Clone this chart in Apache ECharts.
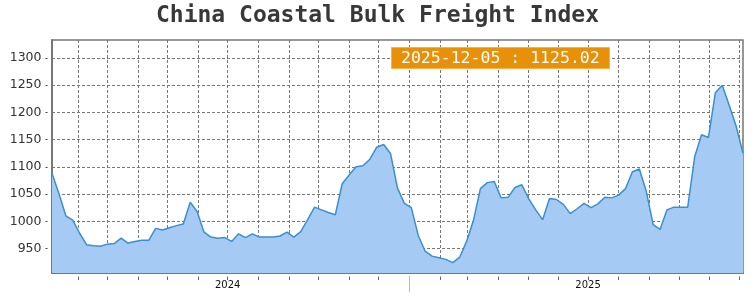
<!DOCTYPE html>
<html>
<head>
<meta charset="utf-8">
<script src="https://cdn.jsdelivr.net/npm/echarts@6/dist/echarts.min.js"></script>
<style>
html,body{margin:0;padding:0;background:#fff;}
#chart{width:755px;height:300px;}
</style>
</head>
<body>
<div id="chart"></div>
<script>
const chartTitle = 'China Coastal Bulk Freight Index';

const dates = [
'2024-01-05','2024-01-12','2024-01-19','2024-01-26','2024-02-02','2024-02-09','2024-02-16','2024-02-23',
'2024-03-01','2024-03-08','2024-03-15','2024-03-22','2024-03-29','2024-04-05','2024-04-12','2024-04-19',
'2024-04-26','2024-05-03','2024-05-10','2024-05-17','2024-05-24','2024-05-31','2024-06-07','2024-06-14',
'2024-06-21','2024-06-28','2024-07-05','2024-07-12','2024-07-19','2024-07-26','2024-08-02','2024-08-09',
'2024-08-16','2024-08-23','2024-08-30','2024-09-06','2024-09-13','2024-09-20','2024-09-27','2024-10-04',
'2024-10-11','2024-10-18','2024-10-25','2024-11-01','2024-11-08','2024-11-15','2024-11-22','2024-11-29',
'2024-12-06','2024-12-13','2024-12-20','2024-12-27',
'2025-01-03','2025-01-10','2025-01-17','2025-01-24','2025-01-31','2025-02-07','2025-02-14','2025-02-21',
'2025-02-28','2025-03-07','2025-03-14','2025-03-21','2025-03-28','2025-04-04','2025-04-11','2025-04-18',
'2025-04-25','2025-05-02','2025-05-09','2025-05-16','2025-05-23','2025-05-30','2025-06-06','2025-06-13',
'2025-06-20','2025-06-27','2025-07-04','2025-07-11','2025-07-18','2025-07-25','2025-08-01','2025-08-08',
'2025-08-15','2025-08-22','2025-08-29','2025-09-05','2025-09-12','2025-09-19','2025-09-26','2025-10-03',
'2025-10-10','2025-10-17','2025-10-24','2025-10-31','2025-11-07','2025-11-14','2025-11-21','2025-11-28',
'2025-12-05'
];

const indexValues = [
1088,1051,1010,1002,978,957,955,954,
958,959,969,960,963,965,965,987,
984,988,992,995,1035,1018,980,971,
969,970,963,977,970,977,971,971,
971,973,980,971,981,1003,1026,1021,
1016,1012,1069,1085,1100,1102,1114,1136,
1141,1124,1061,1033,
1025,974,945,936,933,930,924,934,
963,1002,1060,1071,1073,1043,1044,1062,
1067,1041,1021,1003,1042,1040,1031,1014,
1023,1033,1025,1032,1044,1043,1048,1060,
1091,1096,1055,994,985,1021,1026,1026,
1026,1118,1159,1154,1236,1250,1213,1175,
1125.02
];

const yTicks = [950,1000,1050,1100,1150,1200,1250,1300];
const monthTicks = [
'2024-02-01','2024-03-01','2024-04-01','2024-05-01','2024-06-01','2024-07-01','2024-08-01','2024-09-01',
'2024-10-01','2024-11-01','2024-12-01','2025-01-01','2025-02-01','2025-03-01','2025-04-01','2025-05-01',
'2025-06-01','2025-07-01','2025-08-01','2025-09-01','2025-10-01','2025-11-01','2025-12-01'
];
const yearLabelDates = ['2024-07-01','2025-07-01'];
const yearLabels = ['2024','2025'];
const yearBoundaries = ['2025-01-01'];

const yMin = 905, yMax = 1333;

const ts = s => Date.UTC(+s.slice(0,4), +s.slice(5,7) - 1, +s.slice(8,10));
const seriesData = dates.map((d, i) => [ts(d), indexValues[i]]);
const xMin = ts(dates[0]);
const xMax = ts(dates[dates.length - 1]);
const lastLabel = dates[dates.length - 1] + ' : ' + indexValues[indexValues.length - 1].toFixed(2);

const yearLabelMap = {};
yearLabelDates.forEach((d, i) => { yearLabelMap[ts(d)] = yearLabels[i]; });

const chart = echarts.init(document.getElementById('chart'), null, {renderer: 'canvas'});
chart.setOption({
  animation: false,
  backgroundColor: '#fff',
  title: [{
    text: chartTitle,
    left: 'center',
    top: 5,
    padding: 0,
    textStyle: {fontFamily: 'DejaVu Sans Mono', fontWeight: 'bold', fontSize: 23, color: '#383838'}
  }, {
    text: lastLabel,
    left: 391,
    top: 47,
    padding: [3, 10, 2, 10],
    backgroundColor: '#E89008',
    borderColor: '#F3B44E',
    borderWidth: 1,
    textStyle: {fontFamily: 'DejaVu Sans Mono', fontWeight: 'normal', fontSize: 16.5, color: '#fff'}
  }],
  grid: {
    left: 52, right: 12, top: 40, bottom: 27,
    show: true, borderColor: '#777', borderWidth: 1.5, backgroundColor: 'transparent'
  },
  xAxis: [{
    type: 'value', min: xMin, max: xMax, position: 'bottom', scale: true,
    axisLine: {show: true, lineStyle: {color: '#777', width: 2}},
    axisTick: {show: false, customValues: monthTicks.map(ts)},
    axisLabel: {show: false},
    splitLine: {show: true, lineStyle: {color: '#777', type: [3, 2], width: 1}}
  }, {
    type: 'value', min: xMin, max: xMax, position: 'bottom', offset: 3.5, scale: true,
    axisLine: {show: false},
    axisTick: {show: true, length: 3.5, customValues: monthTicks.map(ts), lineStyle: {color: '#666', width: 1}},
    axisLabel: {
      show: true, customValues: yearLabelDates.map(ts), margin: 4,
      fontFamily: 'DejaVu Sans', fontSize: 10, color: '#111',
      formatter: v => yearLabelMap[v] || ''
    },
    splitLine: {show: false}
  }, {
    type: 'value', min: xMin, max: xMax, position: 'bottom', offset: 3.5, scale: true,
    axisLine: {show: false},
    axisTick: {show: true, length: 15.5, customValues: yearBoundaries.map(ts), lineStyle: {color: '#bbb', width: 1}},
    axisLabel: {show: false},
    splitLine: {show: false}
  }],
  yAxis: [{
    type: 'value', min: yMin, max: yMax, position: 'left',
    axisLine: {show: true, lineStyle: {color: '#777', width: 2}},
    axisTick: {show: false, customValues: yTicks},
    axisLabel: {show: false},
    splitLine: {show: true, lineStyle: {color: '#777', type: [3, 2], width: 1}}
  }, {
    type: 'value', min: yMin, max: yMax, position: 'left', offset: 4.5,
    axisLine: {show: false},
    axisTick: {show: true, length: 2, customValues: yTicks, lineStyle: {color: '#444', width: 1}},
    axisLabel: {
      show: true, customValues: yTicks, margin: 6,
      fontFamily: 'DejaVu Sans', fontSize: 12.5, color: '#333',
      formatter: v => String(v)
    },
    splitLine: {show: false}
  }],
  series: [{
    type: 'line',
    xAxisIndex: 0, yAxisIndex: 0,
    data: seriesData,
    showSymbol: false,
    symbol: 'none',
    smooth: false,
    lineStyle: {color: '#3B8FCB', width: 1.5},
    areaStyle: {color: '#A5CBF5', opacity: 1},
    z: 1
  }]
});
</script>
</body>
</html>
